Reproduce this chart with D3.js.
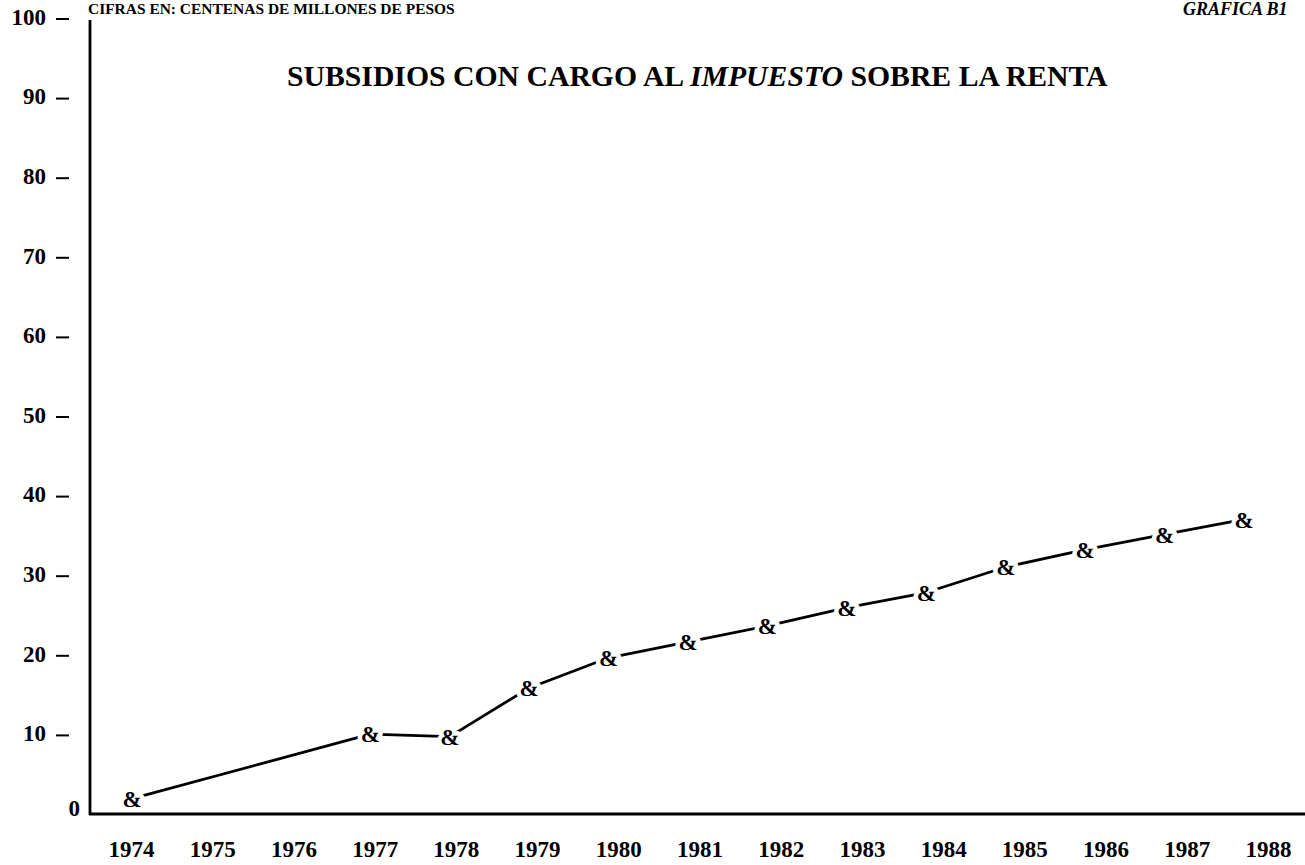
<!DOCTYPE html>
<html>
<head>
<meta charset="utf-8">
<script src="https://cdn.jsdelivr.net/npm/d3@7"></script>
<style>
  html, body { margin: 0; padding: 0; background: #fff; overflow: hidden; }
  svg { display: block; }
  text { font-family: "Liberation Serif", "DejaVu Serif", serif; font-weight: bold; fill: #000; }
</style>
</head>
<body>
<svg id="chart" width="1305" height="865"></svg>
<script>
// ---- data ----
const years = ["1974","1975","1976","1977","1978","1979","1980","1981","1982","1983","1984","1985","1986","1987","1988"];
const valueYears = ["1974","1977","1978","1979","1980","1981","1982","1983","1984","1985","1986","1987","1988"];
const values = [1.8, 9.9, 9.6, 15.7, 19.5, 21.5, 23.5, 25.8, 27.7, 30.9, 33.1, 35.0, 36.9];
const yTicks = [0, 10, 20, 30, 40, 50, 60, 70, 80, 90, 100];
const titleParts = ["SUBSIDIOS CON CARGO AL ", "IMPUESTO", " SOBRE LA RENTA"];
const unitsNote = "CIFRAS EN: CENTENAS DE MILLONES DE PESOS";
const figureNote = "GRAFICA B1";

const svg = d3.select("#chart");

// scales
const y = d3.scaleLinear().domain([0, 100]).range([813, 17]);
const xMark = d3.scalePoint().domain(years).range([132, 1244]);
const xLabel = d3.scalePoint().domain(years).range([131, 1268]);

// axes lines
svg.append("line").attr("x1", 90).attr("x2", 90).attr("y1", 20).attr("y2", 815)
  .attr("stroke", "#000").attr("stroke-width", 2.8);
svg.append("line").attr("x1", 89).attr("x2", 1305).attr("y1", 814).attr("y2", 814)
  .attr("stroke", "#000").attr("stroke-width", 3);

// y tick labels (numbers)
const yAxis = d3.axisLeft(y).tickValues(yTicks).tickSize(0).tickPadding(0)
  .tickFormat(d => String(d));
const gy = svg.append("g").attr("transform", "translate(46,0)").call(yAxis);
gy.select(".domain").remove();
gy.selectAll("text")
  .attr("font-family", "Liberation Serif, serif").attr("font-weight", "bold")
  .attr("font-size", 23).attr("fill", "#000")
  .attr("dx", d => d === 0 ? 34 : 0)
  .attr("dy", d => d === 0 ? "0.1em" : "0.32em");
// dashes beside the numbers (tick marks drawn as dashes in the source)
svg.append("g").selectAll("line").data(yTicks.filter(d => d > 0)).join("line")
  .attr("x1", 56).attr("x2", 69)
  .attr("y1", d => y(d) + 2).attr("y2", d => y(d) + 2)
  .attr("stroke", "#000").attr("stroke-width", 2);

// x tick labels
const xAxis = d3.axisBottom(xLabel).tickSize(0).tickPadding(0);
const gx = svg.append("g").attr("transform", "translate(0,841)").call(xAxis);
gx.select(".domain").remove();
gx.selectAll("text")
  .attr("font-family", "Liberation Serif, serif").attr("font-weight", "bold")
  .attr("font-size", 23).attr("fill", "#000").attr("dy", "0.7em");

// line
const pts = valueYears.map((yr, i) => ({ yr, v: values[i] }));
const line = d3.line().x(d => xMark(d.yr)).y(d => y(d.v));
svg.append("path").datum(pts).attr("d", line)
  .attr("fill", "none").attr("stroke", "#000").attr("stroke-width", 2.8)
  .attr("stroke-linejoin", "round");

// markers "&" with white halo to make gaps
svg.append("g").selectAll("text").data(pts).join("text")
  .attr("x", d => xMark(d.yr)).attr("y", d => y(d.v))
  .attr("text-anchor", "middle").attr("dy", "0.36em")
  .attr("font-size", 23)
  .attr("stroke", "#fff").attr("stroke-width", 9).attr("paint-order", "stroke")
  .attr("stroke-linejoin", "round")
  .text("&");

// title
const title = svg.append("text").attr("x", 287).attr("y", 86).attr("font-size", 26);
title.selectAll("tspan").data(titleParts).join("tspan")
  .attr("font-style", (d, i) => i === 1 ? "italic" : "normal")
  .text(d => d);
const tw = title.node().getComputedTextLength();
title.attr("font-size", 26 * 821 / tw);

// units note
const note = svg.append("text").attr("x", 88).attr("y", 14).attr("font-size", 17).text(unitsNote);
const nw = note.node().getComputedTextLength();
note.attr("font-size", 17 * 367 / nw);

// figure label
svg.append("text").attr("x", 1183).attr("y", 15).attr("font-size", 18)
  .attr("font-style", "italic").text(figureNote);
</script>
</body>
</html>
